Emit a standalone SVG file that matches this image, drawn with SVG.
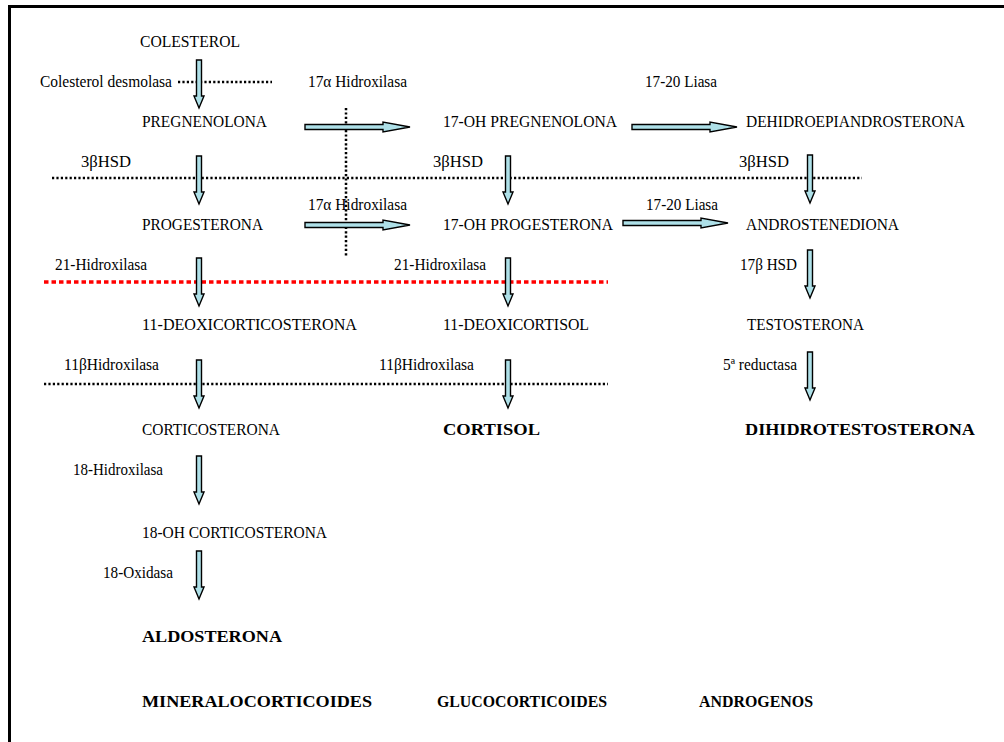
<svg xmlns="http://www.w3.org/2000/svg" xmlns:xlink="http://www.w3.org/1999/xlink" width="1004" height="742" viewBox="0 0 1004 742">
<style>
text{font-family:"Liberation Serif","Times New Roman",serif;font-size:16px;fill:#000}
.b{font-weight:bold;font-size:17px}
.arrow{fill:#aee0e8;stroke:#000;stroke-width:1.4}
.dot{stroke:#000;stroke-width:2.5;stroke-dasharray:2.2 2.2;fill:none}
.red{stroke:#ff0000;stroke-width:3.5;stroke-dasharray:4.5 3;fill:none}
.frame{stroke:#000;stroke-width:3;fill:none}
</style>
<defs>
<path id="va" class="arrow" d="M-2.5,0 H2.5 V36 H5 L0,48 L-5,36 H-2.5 Z"/>
<path id="ha" class="arrow" d="M0,-2.5 H78 V-5 L105,0 L78,5 V2.5 H0 Z"/>
</defs>
<rect width="1004" height="742" fill="#fff"/>
<g id="frame">
<line class="frame" x1="8" y1="6.5" x2="1004" y2="6.5"/>
<line class="frame" x1="9.5" y1="5" x2="9.5" y2="742"/>
</g>
<g id="blocks">
<line class="dot" x1="178" y1="82" x2="272" y2="82"/>
<line class="dot" x1="346" y1="108" x2="346" y2="256"/>
<line class="dot" x1="52" y1="178" x2="862" y2="178"/>
<line class="red" x1="44" y1="282" x2="608" y2="282"/>
<line class="dot" x1="44" y1="384" x2="608" y2="384"/>
</g>
<g id="connectors">
<use xlink:href="#va" x="199" y="60"/>
<use xlink:href="#va" x="199" y="156"/>
<use xlink:href="#va" x="199" y="258"/>
<use xlink:href="#va" x="199" y="360"/>
<use xlink:href="#va" x="199" y="456"/>
<use xlink:href="#va" x="199" y="551"/>
<use xlink:href="#va" x="508" y="156"/>
<use xlink:href="#va" x="508" y="258"/>
<use xlink:href="#va" x="508" y="360"/>
<use xlink:href="#va" x="810" y="155"/>
<use xlink:href="#va" x="810" y="250"/>
<use xlink:href="#va" x="810" y="352"/>
<use xlink:href="#ha" x="305" y="127"/>
<use xlink:href="#ha" x="632" y="127"/>
<use xlink:href="#ha" x="305" y="225"/>
<use xlink:href="#ha" x="623" y="223"/>
<text x="40" y="87" textLength="132" lengthAdjust="spacingAndGlyphs">Colesterol desmolasa</text>
<text x="308" y="87" textLength="99" lengthAdjust="spacingAndGlyphs">17α Hidroxilasa</text>
<text x="645" y="87" textLength="72" lengthAdjust="spacingAndGlyphs">17-20 Liasa</text>
<text x="81" y="167" textLength="50" lengthAdjust="spacingAndGlyphs">3βHSD</text>
<text x="433" y="167" textLength="50" lengthAdjust="spacingAndGlyphs">3βHSD</text>
<text x="739" y="167" textLength="50" lengthAdjust="spacingAndGlyphs">3βHSD</text>
<text x="308" y="210" textLength="99" lengthAdjust="spacingAndGlyphs">17α Hidroxilasa</text>
<text x="646" y="210" textLength="72" lengthAdjust="spacingAndGlyphs">17-20 Liasa</text>
<text x="55" y="270" textLength="92" lengthAdjust="spacingAndGlyphs">21-Hidroxilasa</text>
<text x="394" y="270" textLength="92" lengthAdjust="spacingAndGlyphs">21-Hidroxilasa</text>
<text x="740" y="270" textLength="57" lengthAdjust="spacingAndGlyphs">17β HSD</text>
<text x="64" y="370" textLength="95" lengthAdjust="spacingAndGlyphs">11βHidroxilasa</text>
<text x="379" y="370" textLength="95" lengthAdjust="spacingAndGlyphs">11βHidroxilasa</text>
<text x="723" y="370" textLength="74" lengthAdjust="spacingAndGlyphs">5ª reductasa</text>
<text x="73" y="475" textLength="90" lengthAdjust="spacingAndGlyphs">18-Hidroxilasa</text>
<text x="103" y="578" textLength="70" lengthAdjust="spacingAndGlyphs">18-Oxidasa</text>
</g>
<g id="n-colesterol"><text x="140" y="47" textLength="100" lengthAdjust="spacingAndGlyphs">COLESTEROL</text></g>
<g id="n-pregnenolona"><text x="142" y="127" textLength="125" lengthAdjust="spacingAndGlyphs">PREGNENOLONA</text></g>
<g id="n-17oh-pregnenolona"><text x="443" y="127" textLength="174" lengthAdjust="spacingAndGlyphs">17-OH PREGNENOLONA</text></g>
<g id="n-dhea"><text x="746" y="127" textLength="219" lengthAdjust="spacingAndGlyphs">DEHIDROEPIANDROSTERONA</text></g>
<g id="n-progesterona"><text x="142" y="230" textLength="121" lengthAdjust="spacingAndGlyphs">PROGESTERONA</text></g>
<g id="n-17oh-progesterona"><text x="443" y="230" textLength="170" lengthAdjust="spacingAndGlyphs">17-OH PROGESTERONA</text></g>
<g id="n-androstenediona"><text x="746" y="230" textLength="153" lengthAdjust="spacingAndGlyphs">ANDROSTENEDIONA</text></g>
<g id="n-11-deoxicorticosterona"><text x="142" y="330" textLength="215" lengthAdjust="spacingAndGlyphs">11-DEOXICORTICOSTERONA</text></g>
<g id="n-11-deoxicortisol"><text x="443" y="330" textLength="146" lengthAdjust="spacingAndGlyphs">11-DEOXICORTISOL</text></g>
<g id="n-testosterona"><text x="747" y="330" textLength="117" lengthAdjust="spacingAndGlyphs">TESTOSTERONA</text></g>
<g id="n-corticosterona"><text x="142" y="435" textLength="138" lengthAdjust="spacingAndGlyphs">CORTICOSTERONA</text></g>
<g id="n-cortisol"><text class="b" x="443" y="435" textLength="97" lengthAdjust="spacingAndGlyphs">CORTISOL</text></g>
<g id="n-dht"><text class="b" x="745" y="435" textLength="230" lengthAdjust="spacingAndGlyphs">DIHIDROTESTOSTERONA</text></g>
<g id="n-18oh-corticosterona"><text x="142" y="538" textLength="185" lengthAdjust="spacingAndGlyphs">18-OH CORTICOSTERONA</text></g>
<g id="n-aldosterona"><text class="b" x="142" y="642" textLength="140" lengthAdjust="spacingAndGlyphs">ALDOSTERONA</text></g>
<g id="n-mineralocorticoides"><text class="b" x="142" y="707" textLength="230" lengthAdjust="spacingAndGlyphs">MINERALOCORTICOIDES</text></g>
<g id="n-glucocorticoides"><text class="b" x="437" y="707" textLength="170" lengthAdjust="spacingAndGlyphs">GLUCOCORTICOIDES</text></g>
<g id="n-androgenos"><text class="b" x="699" y="707" textLength="114" lengthAdjust="spacingAndGlyphs">ANDROGENOS</text></g>
</svg>
